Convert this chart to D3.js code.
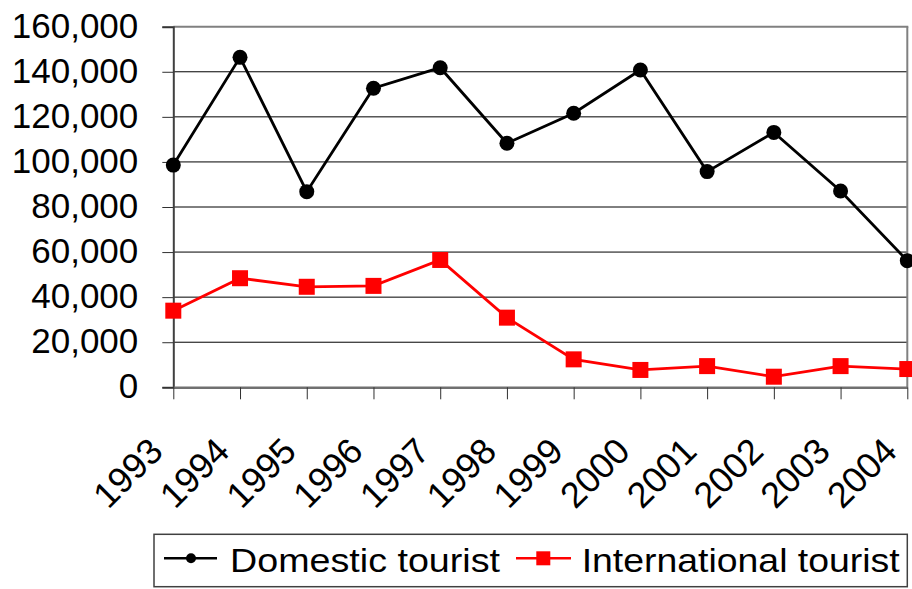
<!DOCTYPE html>
<html>
<head>
<meta charset="utf-8">
<script src="https://cdn.jsdelivr.net/npm/d3@7"></script>
<style>
  html, body { margin: 0; padding: 0; background: #fff; }
  svg { display: block; font-family: "Liberation Sans", Arial, sans-serif; }
</style>
</head>
<body>
<svg id="chart" width="912" height="589"></svg>
<script>
const years = ["1993","1994","1995","1996","1997","1998","1999","2000","2001","2002","2003","2004"];
const domestic = [98600, 146400, 86800, 132700, 141800, 108300, 121600, 140800, 95700, 113100, 87100, 56200];
const international = [34000, 48400, 44600, 45000, 56500, 30900, 12400, 7700, 9400, 4700, 9400, 8100];
const yTicks = [0, 20000, 40000, 60000, 80000, 100000, 120000, 140000, 160000];
const seriesNames = ["Domestic tourist", "International tourist"];

(function () {
const svg = d3.select("#chart");
const pL = 173.3, pR = 907.3, pT = 26.7, pB = 387.3;

const x = d3.scalePoint().domain(years).range([pL, pR]);
const y = d3.scaleLinear().domain([0, 160000]).range([pB, pT]);
const fmt = d3.format(",");

// gridlines
svg.append("g").selectAll("line").data(yTicks.filter(d => d > 0 && d < 160000)).join("line")
  .attr("x1", pL).attr("x2", pR)
  .attr("y1", d => y(d)).attr("y2", d => y(d))
  .attr("stroke", "#000").attr("stroke-width", 1);

// frame top & right (gray)
svg.append("line").attr("x1", pL).attr("x2", pR + 1).attr("y1", pT).attr("y2", pT)
  .attr("stroke", "#808080").attr("stroke-width", 2);
svg.append("line").attr("x1", pR).attr("x2", pR).attr("y1", pT).attr("y2", pB)
  .attr("stroke", "#808080").attr("stroke-width", 2);

// y axis
const yAxis = d3.axisLeft(y).tickValues(yTicks).tickFormat(fmt).tickSize(11).tickPadding(0);
const gy = svg.append("g").attr("transform", `translate(${pL},0)`).call(yAxis);
gy.select(".domain").attr("stroke", "#404040").attr("stroke-width", 2);
gy.selectAll(".tick line").attr("stroke", "#303030").attr("stroke-width", 1);
gy.selectAll(".tick text")
  .attr("x", -35).attr("dy", null).attr("y", 10.5)
  .attr("font-size", 35).attr("fill", "#000")
  .attr("font-family", "Liberation Sans, Arial, sans-serif");

// x axis
const xAxis = d3.axisBottom(x).tickSize(12).tickSizeOuter(0);
const gx = svg.append("g").attr("transform", `translate(0,${pB})`).call(xAxis);
gx.select(".domain").attr("stroke", "#707070").attr("stroke-width", 2.5);
gx.selectAll(".tick line").attr("stroke", "#303030").attr("stroke-width", 1);
gx.selectAll(".tick text")
  .attr("y", null).attr("dy", null)
  .attr("transform", "translate(-9,66) rotate(-45)")
  .attr("text-anchor", "end")
  .attr("font-size", 36).attr("fill", "#000")
  .attr("font-family", "Liberation Sans, Arial, sans-serif");

// lines
const line = d3.line().x((d, i) => x(years[i])).y(d => y(d));
svg.append("path").datum(domestic).attr("d", line)
  .attr("fill", "none").attr("stroke", "#000").attr("stroke-width", 2.8);
svg.append("path").datum(international).attr("d", line)
  .attr("fill", "none").attr("stroke", "#ff0000").attr("stroke-width", 2.8);

// markers
svg.append("g").selectAll("circle").data(domestic).join("circle")
  .attr("cx", (d, i) => x(years[i])).attr("cy", d => y(d)).attr("r", 7.5).attr("fill", "#000");
const sq = 16;
svg.append("g").selectAll("rect").data(international).join("rect")
  .attr("x", (d, i) => x(years[i]) - sq / 2).attr("y", d => y(d) - sq / 2)
  .attr("width", sq).attr("height", sq).attr("fill", "#ff0000");

// legend
const lg = svg.append("g");
lg.append("rect").attr("x", 154).attr("y", 534.3).attr("width", 753.3).attr("height", 52.4)
  .attr("fill", "#fff").attr("stroke", "#404040").attr("stroke-width", 1.5);
const ly = 558.3;
lg.append("line").attr("x1", 164).attr("x2", 217).attr("y1", ly).attr("y2", ly).attr("stroke", "#000").attr("stroke-width", 2.5);
lg.append("circle").attr("cx", 191).attr("cy", ly).attr("r", 5).attr("fill", "#000");
lg.append("text").attr("x", 230).attr("y", 571.5).text(seriesNames[0])
  .attr("font-size", 34).attr("textLength", 270).attr("lengthAdjust", "spacingAndGlyphs");
lg.append("line").attr("x1", 516).attr("x2", 571).attr("y1", ly).attr("y2", ly).attr("stroke", "#ff0000").attr("stroke-width", 2.5);
lg.append("rect").attr("x", 543.3 - 7).attr("y", ly - 7).attr("width", 14).attr("height", 14).attr("fill", "#ff0000");
lg.append("text").attr("x", 581.7).attr("y", 571.5).text(seriesNames[1])
  .attr("font-size", 34).attr("textLength", 318).attr("lengthAdjust", "spacingAndGlyphs");
})();
</script>
</body>
</html>
